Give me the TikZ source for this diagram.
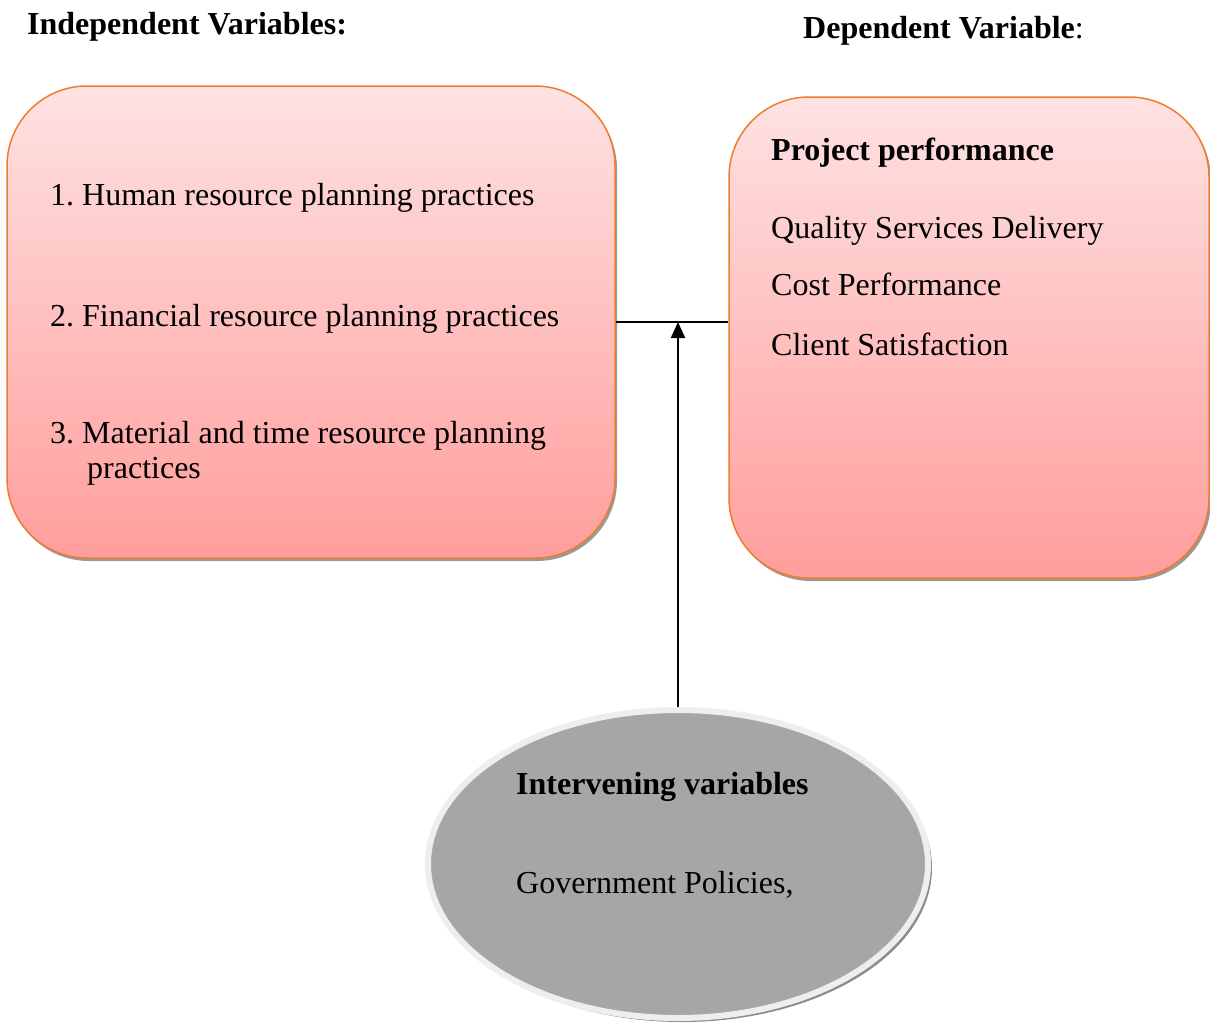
\documentclass[tikz,border=0pt]{standalone}
\usepackage{fontspec}
\setmainfont{Liberation Serif}
\usetikzlibrary{shadows,arrows.meta,shapes.geometric}
\definecolor{boxtop}{RGB}{254,226,226}
\definecolor{boxbot}{RGB}{255,158,156}
\definecolor{boxline}{RGB}{237,125,49}
\definecolor{ellfill}{RGB}{166,166,166}
\definecolor{ellring}{RGB}{238,238,238}
\frenchspacing
\begin{document}
\begin{tikzpicture}[x=1pt,y=-1pt,
  varbox/.style={rectangle,rounded corners=80pt,draw=boxline,line width=1.5pt,
    top color=boxtop,bottom color=boxbot,
    general shadow={shadow xshift=2pt,shadow yshift=-3pt,fill=black!40}},
  txt/.style={anchor=base west,inner sep=0pt,font=\fontsize{32}{38}\selectfont},
  btxt/.style={txt,font=\fontsize{32}{38}\selectfont\bfseries},
  conn/.style={line width=2.2pt,black}]
\useasboundingbox (0,0) rectangle (1210,1025);
\node[varbox,minimum width=608pt,minimum height=472pt] (left) at (311,322) {};
\node[varbox,minimum width=480pt,minimum height=481pt] (right) at (969,337.5) {};
\node[ellipse,fill=ellfill,draw=ellring,line width=6pt,minimum width=500pt,minimum height=308pt,
  general shadow={shadow xshift=4pt,shadow yshift=-4pt,fill=black!45}] (ell) at (678,864) {};
% headings
\node[btxt] (hind) at (27,35) {Independent Variables:};
\node[txt] (hdep) at (803,39) {\textbf{Dependent Variable}:};
% left box text
\node[txt] (l1) at (50,205) {1. Human resource planning practices};
\node[txt] (l2) at (50,326) {2. Financial resource planning practices};
\node[txt] (l3) at (50,443) {3. Material and time resource planning};
\node[txt] (l3b) at (87,478) {practices};
% right box text
\node[btxt] (r0) at (771,160) {Project performance};
\node[txt] (r1) at (771,238) {Quality Services Delivery};
\node[txt] (r2) at (771,295) {Cost Performance};
\node[txt] (r3) at (771,355) {Client Satisfaction};
% ellipse text
\node[btxt] (e0) at (516,794) {Intervening variables};
\node[txt] (e1) at (516,893) {Government Policies,};
% connectors
\coordinate (j) at (ell.north |- left.east);
\draw[conn] (left.east) -- (left.east -| right.west);
\draw[conn,-{Triangle[length=16pt,width=14pt]}] (ell.north) -- (j);
\end{tikzpicture}
\end{document}
